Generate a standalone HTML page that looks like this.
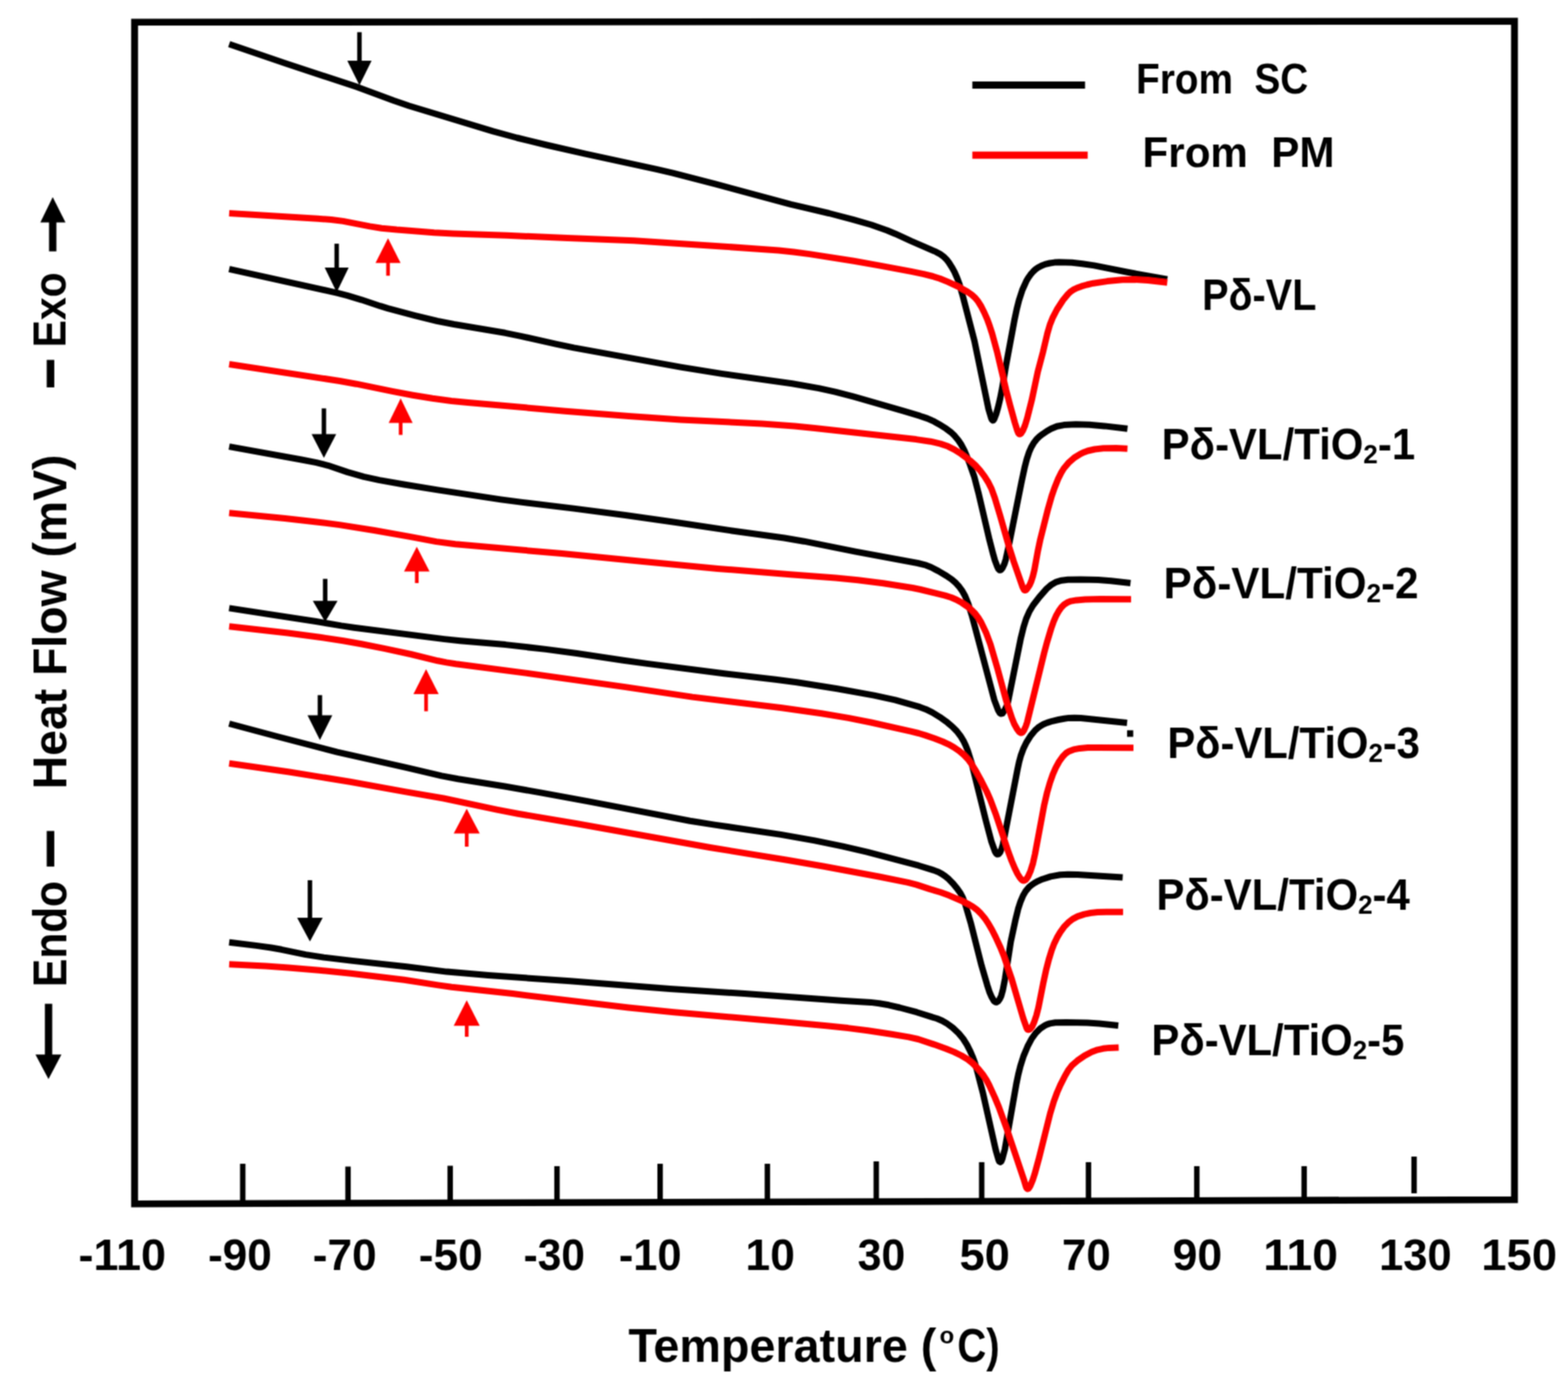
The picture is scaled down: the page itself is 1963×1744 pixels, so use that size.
<!DOCTYPE html>
<html><head><meta charset="utf-8"><title>DSC curves</title>
<style>html,body{margin:0;padding:0;background:#fff;overflow:hidden}svg{display:block}</style></head>
<body>
<svg width="1963" height="1744" viewBox="0 0 1963 1744">
<defs><filter id="soft" x="0" y="0" width="100%" height="100%" filterUnits="userSpaceOnUse"><feConvolveMatrix order="3" kernelMatrix="1 2 1 2 4 2 1 2 1" divisor="16" edgeMode="none" preserveAlpha="false"/></filter></defs>
<rect width="1963" height="1744" fill="#fff"/>
<g filter="url(#soft)">
<path d="M168.5,27.8 L1896,26.6 L1896,1502 L168.5,1507.3 Z" fill="none" stroke="#000" stroke-width="8.6" stroke-linejoin="miter"/>
<path d="M303.9,1457.1 V1505 M435.7,1460.4 V1505 M563.6,1459.6 V1505 M697.3,1459.9 V1505 M826.4,1457 V1505 M960.7,1457 V1505 M1097,1454 V1505 M1229,1455 V1505 M1362.7,1455 V1505 M1498.3,1460 V1505 M1632.7,1460 V1505 M1770.3,1448 V1494" stroke="#000" stroke-width="6.8" fill="none"/>
<g font-family="'Liberation Sans', Arial, sans-serif" font-weight="bold" fill="#000">
<text transform="translate(98.25,1590.00) scale(1.0090,1)" font-size="55.80" >-110</text>
<text transform="translate(260.38,1590.00) scale(0.9926,1)" font-size="55.80" >-90</text>
<text transform="translate(391.58,1590.00) scale(0.9926,1)" font-size="55.80" >-70</text>
<text transform="translate(524.29,1590.00) scale(0.9913,1)" font-size="55.80" >-50</text>
<text transform="translate(655.48,1590.00) scale(0.9506,1)" font-size="55.80" >-30</text>
<text transform="translate(774.63,1590.00) scale(0.9742,1)" font-size="55.80" >-10</text>
<text transform="translate(933.37,1590.00) scale(0.9955,1)" font-size="55.80" >10</text>
<text transform="translate(1073.66,1590.00) scale(0.9604,1)" font-size="55.80" >30</text>
<text transform="translate(1201.30,1590.00) scale(1.0133,1)" font-size="55.80" >50</text>
<text transform="translate(1329.40,1590.00) scale(0.9848,1)" font-size="55.80" >70</text>
<text transform="translate(1468.05,1590.00) scale(1.0009,1)" font-size="55.80" >90</text>
<text transform="translate(1581.42,1590.00) scale(1.0409,1)" font-size="55.80" >110</text>
<text transform="translate(1726.43,1590.00) scale(0.9768,1)" font-size="55.80" >130</text>
<text transform="translate(1854.60,1590.00) scale(1.0158,1)" font-size="55.80" >150</text>
</g>
<g fill="none" stroke-width="8.0" stroke-linejoin="round" stroke-linecap="butt">
<path d="M286.9,55.3 L357.9,79.5 L447.2,108.9 L493.1,126.0 L512.0,132.5 L617.3,164.3 L647.2,172.5 L684.1,181.5 L732.9,192.6 L821.8,211.8 L842.3,216.6 L896.5,230.6 L990.1,255.8 L1037.8,267.0 L1067.8,274.8 L1090.9,281.5 L1110.7,288.5 L1120.8,292.7 L1140.8,301.9 L1172.0,315.4 L1177.2,318.3 L1181.2,321.2 L1184.7,324.6 L1187.8,328.5 L1191.5,334.3 L1194.9,340.4 L1198.1,347.7 L1200.9,355.2 L1204.8,368.6 L1219.9,426.7 L1237.5,511.9 L1240.9,523.4 L1241.7,525.2 L1242.8,526.4 L1243.5,526.3 L1244.6,524.9 L1247.1,518.4 L1249.3,510.7 L1252.1,499.0 L1254.6,486.3 L1259.4,457.7 L1270.0,400.7 L1272.9,387.0 L1275.6,376.3 L1279.9,363.0 L1284.8,352.1 L1287.3,347.8 L1290.2,343.7 L1293.4,340.0 L1296.3,337.3 L1299.5,335.0 L1303.8,332.7 L1308.4,330.9 L1314.2,329.5 L1320.1,328.6 L1326.0,328.3 L1342.0,328.8 L1354.9,330.2 L1369.7,332.4 L1412.9,341.0 L1461.3,349.8" stroke="#000"/>
<path d="M286.9,336.8 L422.6,366.8 L435.2,370.1 L452.4,375.3 L476.1,383.2 L485.7,386.1 L519.5,395.1 L547.7,402.0 L568.3,406.0 L632.4,416.8 L652.0,420.8 L696.8,430.9 L718.4,435.4 L852.2,459.6 L903.5,467.9 L991.7,480.3 L1025.2,486.1 L1045.7,490.6 L1068.9,496.7 L1131.4,514.6 L1151.5,520.7 L1160.9,523.9 L1168.2,527.1 L1175.2,530.9 L1184.5,536.7 L1190.9,541.5 L1195.2,545.7 L1199.6,551.0 L1203.5,556.8 L1207.2,563.9 L1213.7,579.6 L1219.6,596.6 L1224.9,616.9 L1238.8,676.3 L1243.3,693.7 L1245.5,701.4 L1248.3,708.9 L1250.0,712.4 L1251.4,713.7 L1252.2,713.8 L1253.0,713.5 L1254.9,711.4 L1257.4,706.0 L1259.2,700.2 L1262.6,684.6 L1278.9,603.2 L1282.7,585.6 L1285.4,575.0 L1288.2,566.4 L1291.0,560.0 L1293.9,554.9 L1297.5,550.2 L1301.1,546.7 L1304.9,543.7 L1310.7,539.7 L1315.9,536.8 L1323.2,533.8 L1331.9,532.1 L1346.9,531.3 L1363.8,531.8 L1382.8,533.4 L1411.5,536.8" stroke="#000"/>
<path d="M286.9,559.1 L377.4,575.5 L396.1,579.2 L410.6,582.8 L435.2,591.1 L455.4,596.8 L475.0,601.1 L505.5,606.5 L547.9,613.4 L627.0,625.4 L653.8,628.9 L718.3,636.6 L782.8,645.0 L846.2,654.0 L916.4,664.5 L981.8,673.5 L1006.4,677.7 L1071.1,690.7 L1148.8,705.0 L1159.4,707.7 L1165.8,710.3 L1174.7,714.9 L1185.0,721.0 L1191.6,725.5 L1196.8,730.1 L1200.8,734.5 L1204.3,739.3 L1207.8,745.4 L1212.0,755.5 L1216.8,770.7 L1244.7,876.1 L1249.6,889.2 L1251.7,892.6 L1253.2,893.6 L1254.9,893.2 L1257.3,890.1 L1259.9,884.7 L1261.8,879.1 L1277.8,799.7 L1281.4,785.1 L1284.7,774.6 L1288.7,765.5 L1293.3,757.8 L1301.2,747.5 L1310.4,737.0 L1316.4,731.9 L1322.4,728.6 L1329.0,726.7 L1336.9,725.7 L1352.9,725.4 L1374.9,726.1 L1390.8,727.3 L1415.3,730.0" stroke="#000"/>
<path d="M286.9,761.4 L395.6,778.0 L427.2,783.4 L443.0,785.7 L556.1,800.1 L576.0,802.2 L632.8,807.1 L683.4,812.9 L722.1,818.0 L780.4,826.8 L810.2,830.9 L906.4,843.3 L970.9,850.8 L997.7,854.3 L1048.1,862.3 L1094.3,870.6 L1120.7,876.4 L1151.5,885.2 L1158.9,887.9 L1167.0,891.9 L1176.3,897.6 L1186.1,904.6 L1192.2,909.7 L1197.8,915.4 L1202.7,921.7 L1206.2,927.6 L1208.8,933.0 L1211.4,939.5 L1216.5,955.7 L1234.3,1027.6 L1241.2,1053.7 L1245.6,1065.9 L1247.1,1068.5 L1248.5,1069.6 L1250.1,1069.3 L1252.0,1067.1 L1254.0,1062.5 L1255.5,1057.7 L1273.8,963.5 L1275.9,953.7 L1278.0,946.0 L1281.1,937.6 L1285.0,929.5 L1290.3,921.1 L1296.0,914.2 L1299.7,910.9 L1302.9,908.7 L1306.3,906.8 L1310.9,904.9 L1317.5,902.8 L1325.3,901.0 L1332.2,899.7 L1338.1,898.9 L1345.1,898.7 L1353.1,899.1 L1411.0,905.0" stroke="#000"/>
<path d="M286.9,906.0 L346.8,922.0 L422.3,941.7 L508.2,960.8 L552.9,971.4 L573.6,975.3 L631.8,984.5 L678.1,992.6 L738.1,1003.6 L863.8,1027.7 L894.5,1032.6 L977.5,1044.9 L1019.9,1052.4 L1055.2,1059.6 L1085.4,1066.6 L1150.1,1083.7 L1169.2,1089.6 L1174.8,1091.8 L1179.1,1094.1 L1183.2,1096.9 L1187.8,1100.7 L1193.3,1106.4 L1198.4,1112.6 L1202.4,1118.3 L1205.2,1123.6 L1208.7,1132.9 L1215.7,1156.9 L1228.9,1209.2 L1235.9,1233.2 L1239.0,1242.7 L1241.4,1248.2 L1244.5,1253.3 L1246.0,1254.5 L1246.9,1254.8 L1247.8,1254.7 L1249.4,1253.7 L1251.2,1251.4 L1253.4,1246.9 L1255.3,1240.2 L1258.2,1225.4 L1265.4,1179.0 L1271.5,1150.7 L1274.6,1138.1 L1277.7,1128.6 L1280.8,1121.2 L1284.3,1115.3 L1288.1,1110.8 L1291.1,1108.2 L1295.1,1105.5 L1299.5,1103.1 L1305.0,1100.7 L1315.4,1097.4 L1327.2,1095.3 L1337.2,1094.7 L1349.1,1094.9 L1405.5,1098.5" stroke="#000"/>
<path d="M286.9,1179.8 L320.7,1183.9 L339.5,1186.5 L352.3,1188.8 L382.6,1195.1 L405.3,1198.6 L441.1,1202.9 L508.7,1210.3 L559.3,1216.6 L611.1,1221.0 L713.8,1228.3 L838.5,1238.0 L932.3,1244.0 L1052.9,1252.8 L1089.9,1254.9 L1100.8,1256.2 L1112.6,1258.3 L1126.2,1261.5 L1147.5,1267.2 L1173.2,1275.3 L1179.6,1278.0 L1184.8,1280.9 L1192.8,1286.8 L1200.1,1293.6 L1205.8,1300.5 L1210.6,1308.1 L1214.2,1315.2 L1217.4,1322.5 L1220.2,1330.0 L1222.8,1338.6 L1230.8,1369.6 L1246.6,1439.9 L1250.2,1452.3 L1251.0,1454.1 L1252.3,1454.9 L1253.5,1454.0 L1254.7,1451.2 L1258.0,1438.7 L1272.4,1356.9 L1274.8,1345.2 L1277.5,1334.5 L1281.4,1322.1 L1286.4,1310.2 L1291.5,1300.5 L1296.8,1293.2 L1302.4,1287.7 L1308.1,1283.9 L1310.7,1282.6 L1314.4,1281.4 L1321.2,1280.3 L1335.2,1280.0 L1361.2,1280.5 L1376.2,1281.6 L1400.0,1284.0" stroke="#000"/>
<path d="M286.9,267.1 L397.7,273.7 L414.7,275.0 L429.5,276.9 L462.9,283.4 L477.7,285.7 L496.6,287.6 L543.5,291.2 L567.4,292.4 L634.4,294.7 L710.3,298.1 L793.3,301.2 L896.0,307.9 L974.8,313.6 L993.7,315.5 L1013.6,318.1 L1068.9,326.8 L1100.4,332.4 L1140.7,339.9 L1156.4,343.1 L1168.0,346.0 L1176.6,348.7 L1186.7,352.9 L1201.2,359.7 L1210.8,365.0 L1216.5,369.0 L1220.9,373.0 L1224.6,377.6 L1228.3,383.5 L1232.3,391.5 L1235.9,399.7 L1239.0,408.2 L1242.1,417.7 L1248.6,441.8 L1259.6,488.5 L1264.4,506.9 L1270.5,529.1 L1273.5,538.7 L1274.9,542.3 L1276.2,543.5 L1277.0,543.5 L1278.4,542.5 L1280.5,539.1 L1283.2,532.6 L1286.1,523.1 L1291.7,500.8 L1299.2,465.5 L1305.8,440.4 L1311.3,417.1 L1314.4,406.5 L1318.1,397.3 L1323.2,387.5 L1330.8,375.8 L1337.1,368.1 L1340.7,364.8 L1344.0,362.7 L1348.4,360.5 L1354.0,358.4 L1360.7,356.5 L1368.5,354.7 L1386.2,352.1 L1405.2,350.3 L1419.1,350.0 L1437.1,351.1 L1461.3,353.8" stroke="#f00"/>
<path d="M286.9,456.0 L425.3,477.0 L446.0,480.7 L491.0,489.9 L516.6,494.7 L541.3,498.8 L565.1,502.0 L585.9,504.0 L707.5,514.7 L787.2,521.1 L852.1,525.4 L953.9,530.6 L994.8,533.4 L1019.7,535.9 L1146.9,550.1 L1164.7,552.7 L1177.4,555.6 L1186.8,558.8 L1194.8,562.8 L1203.2,568.2 L1214.4,576.6 L1221.1,582.6 L1226.5,588.4 L1232.5,596.4 L1237.3,604.0 L1241.3,612.0 L1245.4,623.3 L1252.0,645.3 L1262.7,682.8 L1269.0,702.8 L1280.2,734.9 L1282.0,738.4 L1282.7,738.9 L1283.4,739.1 L1284.2,738.8 L1285.6,737.4 L1289.0,732.5 L1291.0,727.9 L1293.1,721.3 L1295.0,713.5 L1299.3,689.9 L1302.4,675.2 L1311.4,639.4 L1316.6,621.1 L1320.2,610.7 L1324.7,599.6 L1328.2,592.4 L1331.8,586.5 L1337.6,579.6 L1345.0,573.0 L1352.5,568.3 L1357.1,566.2 L1361.7,564.5 L1370.4,562.5 L1381.3,561.3 L1397.3,561.0 L1411.5,561.7" stroke="#f00"/>
<path d="M286.9,642.2 L356.6,649.0 L396.3,653.5 L425.1,657.1 L468.5,664.0 L512.9,671.9 L546.3,678.1 L570.0,681.3 L703.5,693.1 L805.0,703.1 L898.6,711.9 L989.3,719.2 L1046.2,723.5 L1074.0,726.2 L1105.8,730.3 L1142.3,736.0 L1152.1,738.0 L1183.2,745.6 L1190.8,748.0 L1197.2,750.7 L1204.1,754.6 L1210.7,759.1 L1216.2,763.5 L1221.0,768.4 L1224.6,773.1 L1228.3,779.1 L1234.3,791.7 L1239.9,806.7 L1248.6,836.4 L1259.6,876.9 L1266.7,898.8 L1269.7,906.2 L1273.6,913.2 L1276.0,916.4 L1277.6,917.4 L1278.5,917.5 L1280.1,916.8 L1281.9,914.4 L1284.3,909.0 L1285.9,904.2 L1307.1,817.8 L1311.0,803.3 L1315.9,787.0 L1318.9,778.5 L1322.0,771.2 L1325.4,765.1 L1328.8,760.3 L1332.2,756.9 L1336.2,754.3 L1340.7,752.6 L1347.5,751.4 L1358.5,750.6 L1377.5,750.1 L1416.0,750.3" stroke="#f00"/>
<path d="M286.9,784.3 L360.4,792.5 L400.1,797.7 L429.8,802.2 L452.4,806.3 L480.8,811.9 L514.1,819.0 L548.1,827.3 L558.9,829.4 L570.7,831.3 L658.0,842.6 L782.8,860.1 L866.8,872.6 L979.0,886.2 L1028.5,893.3 L1062.1,898.9 L1090.5,904.5 L1140.3,915.6 L1150.0,918.0 L1158.6,920.6 L1169.9,924.5 L1180.2,928.5 L1187.4,931.8 L1194.4,935.8 L1200.9,940.3 L1207.0,945.4 L1211.8,950.5 L1216.5,956.9 L1221.8,965.4 L1227.6,975.9 L1235.3,991.0 L1239.8,1001.1 L1247.1,1020.7 L1262.6,1067.2 L1266.4,1077.5 L1270.3,1086.7 L1273.8,1094.0 L1276.4,1098.2 L1278.9,1101.3 L1280.5,1102.4 L1281.4,1102.6 L1282.3,1102.4 L1284.0,1101.5 L1285.3,1100.1 L1287.0,1097.6 L1290.2,1090.3 L1293.2,1080.7 L1295.8,1069.0 L1307.2,1008.1 L1310.8,992.5 L1314.4,980.0 L1318.0,969.6 L1321.6,961.4 L1325.9,953.5 L1330.5,947.1 L1334.5,943.0 L1338.6,940.4 L1344.0,938.4 L1351.8,936.9 L1361.8,936.1 L1374.8,935.9 L1419.0,936.3" stroke="#f00"/>
<path d="M286.9,955.7 L362.1,966.5 L438.1,978.7 L508.0,991.4 L555.3,999.5 L621.8,1013.6 L648.4,1018.7 L722.3,1031.2 L888.7,1061.0 L985.4,1076.7 L1031.7,1084.8 L1101.5,1097.8 L1136.8,1104.9 L1147.4,1107.6 L1162.6,1112.6 L1177.9,1117.3 L1188.2,1121.1 L1205.6,1128.6 L1212.8,1132.1 L1217.9,1135.1 L1222.7,1138.7 L1227.7,1143.5 L1232.8,1149.6 L1237.3,1156.2 L1241.8,1164.0 L1246.3,1172.9 L1252.6,1186.5 L1256.7,1196.7 L1266.7,1226.1 L1281.0,1275.0 L1285.3,1287.2 L1286.3,1288.8 L1287.1,1289.2 L1288.0,1289.1 L1289.6,1288.3 L1292.1,1285.2 L1294.6,1279.8 L1297.5,1271.3 L1300.0,1261.6 L1306.2,1230.2 L1309.6,1214.6 L1313.1,1201.0 L1316.6,1189.6 L1319.8,1181.2 L1323.3,1173.9 L1327.3,1167.1 L1332.0,1160.6 L1337.4,1154.9 L1342.9,1150.6 L1349.0,1147.4 L1357.4,1144.6 L1365.3,1143.0 L1374.2,1142.1 L1385.2,1141.7 L1406.0,1141.8" stroke="#f00"/>
<path d="M286.9,1207.3 L332.8,1209.6 L360.8,1211.4 L399.6,1214.7 L439.4,1218.7 L506.0,1226.8 L548.4,1233.4 L565.3,1235.7 L641.8,1244.1 L786.8,1261.5 L843.5,1267.2 L970.0,1278.3 L1034.7,1284.3 L1061.6,1287.1 L1086.4,1290.3 L1116.0,1294.7 L1137.7,1298.4 L1149.4,1301.0 L1169.3,1307.6 L1184.4,1313.0 L1194.6,1317.1 L1203.5,1321.5 L1211.2,1326.2 L1217.5,1331.1 L1224.6,1338.1 L1230.3,1345.0 L1234.7,1351.6 L1238.4,1358.7 L1245.5,1374.1 L1250.5,1386.1 L1261.4,1416.2 L1282.1,1477.8 L1284.4,1485.5 L1285.1,1487.3 L1286.4,1488.5 L1287.1,1488.4 L1287.8,1488.0 L1289.9,1484.6 L1292.9,1477.2 L1295.4,1469.6 L1300.9,1449.4 L1314.7,1394.1 L1319.3,1378.8 L1323.5,1367.5 L1327.5,1358.4 L1333.4,1346.8 L1337.9,1339.1 L1342.1,1333.7 L1348.8,1327.9 L1357.9,1321.6 L1366.7,1317.0 L1374.1,1314.3 L1380.9,1312.8 L1388.8,1311.9 L1400.5,1311.5" stroke="#f00"/>
</g>
<rect x="1411" y="914.3" width="7.7" height="8.2" fill="#000"/>
<path d="M450,40.3 V77.9" stroke="#000" stroke-width="5.6"/>
<path d="M434.8,75.9 L465.2,75.9 L450,106.8 Z" fill="#000"/>
<path d="M421.5,305.1 V336.9" stroke="#000" stroke-width="5.6"/>
<path d="M406.5,334.9 L436.5,334.9 L421.5,365.9 Z" fill="#000"/>
<path d="M405.5,511.3 V545.4" stroke="#000" stroke-width="5.6"/>
<path d="M390.1,543.4 L420.9,543.4 L405.5,573.2 Z" fill="#000"/>
<path d="M407.1,724.7 V754.2" stroke="#000" stroke-width="5.6"/>
<path d="M391.6,752.2 L422.6,752.2 L407.1,778.6 Z" fill="#000"/>
<path d="M400.5,870.3 V897.5" stroke="#000" stroke-width="5.6"/>
<path d="M385.0,895.5 L416.0,895.5 L400.5,926.4 Z" fill="#000"/>
<path d="M388,1102 V1151" stroke="#000" stroke-width="5.6"/>
<path d="M372,1149 L404,1149 L388,1178.8 Z" fill="#000"/>
<path d="M485.8,345.2 V327.2" stroke="#f00" stroke-width="4.6"/>
<path d="M470.1,329.2 L501.5,329.2 L485.8,298.2 Z" fill="#f00"/>
<path d="M501.6,544.5 V527.6" stroke="#f00" stroke-width="4.6"/>
<path d="M486.6,529.6 L516.6,529.6 L501.6,498.7 Z" fill="#f00"/>
<path d="M521.8,730 V713.5" stroke="#f00" stroke-width="4.6"/>
<path d="M505.79999999999995,715.5 L537.8,715.5 L521.8,684.6 Z" fill="#f00"/>
<path d="M533.4,890.5 V867.1" stroke="#f00" stroke-width="4.6"/>
<path d="M517.6,869.1 L549.1999999999999,869.1 L533.4,837.7 Z" fill="#f00"/>
<path d="M584.3,1060 V1041.6" stroke="#f00" stroke-width="4.6"/>
<path d="M568.0,1043.6 L600.5999999999999,1043.6 L584.3,1012.6 Z" fill="#f00"/>
<path d="M584.3,1298 V1282.3" stroke="#f00" stroke-width="4.6"/>
<path d="M568.0,1284.3 L600.5999999999999,1284.3 L584.3,1252.2 Z" fill="#f00"/>
<path d="M1217.3,106.5 H1358.4" stroke="#000" stroke-width="9"/>
<path d="M1217.3,194.3 H1361.7" stroke="#f00" stroke-width="9"/>
<g font-family="'Liberation Sans', Arial, sans-serif" font-weight="bold" fill="#000" style="white-space:pre">
<text transform="translate(1422.24,117.30) scale(0.9052,1)" font-size="53.62" >From  SC</text>
<text transform="translate(1430.37,209.00) scale(0.9845,1)" font-size="53.62" >From  PM</text>
</g>
<g font-family="'Liberation Sans', Arial, sans-serif" font-weight="bold" fill="#000">
<text transform="translate(1504.88,387.80) scale(0.9055,1)" font-size="54.78" >Pδ-VL</text>
<text transform="translate(1454.29,574.60) scale(0.9584,1)" font-size="54.78">Pδ-VL/TiO<tspan font-size="33.97" dy="4.93">2</tspan><tspan dy="-4.93">-1</tspan></text>
<text transform="translate(1456.67,749.30) scale(0.9642,1)" font-size="54.78">Pδ-VL/TiO<tspan font-size="33.97" dy="4.93">2</tspan><tspan dy="-4.93">-2</tspan></text>
<text transform="translate(1461.40,949.00) scale(0.9554,1)" font-size="54.78">Pδ-VL/TiO<tspan font-size="33.97" dy="4.93">2</tspan><tspan dy="-4.93">-3</tspan></text>
<text transform="translate(1447.69,1139.30) scale(0.9586,1)" font-size="54.78">Pδ-VL/TiO<tspan font-size="33.97" dy="4.93">2</tspan><tspan dy="-4.93">-4</tspan></text>
<text transform="translate(1441.60,1320.60) scale(0.9557,1)" font-size="54.78">Pδ-VL/TiO<tspan font-size="33.97" dy="4.93">2</tspan><tspan dy="-4.93">-5</tspan></text>
</g>
<g font-family="'Liberation Sans', Arial, sans-serif" font-weight="bold" fill="#000">
<text transform="translate(83.00,988.27) rotate(-90) scale(0.9653,1)" font-size="60.14" >Heat Flow (mV)</text>
<text transform="translate(82.60,1235.75) rotate(-90) scale(0.9101,1)" font-size="58.41" >Endo</text>
<text transform="translate(82.00,435.03) rotate(-90) scale(0.8934,1)" font-size="57.39" >Exo</text>
</g>
<text transform="translate(63.40,1062.60) rotate(-90) scale(0.4460,0.9600) translate(-50.00,27.00)" font-size="100" font-family="'Liberation Sans', Arial, sans-serif" font-weight="bold">—</text>
<text transform="translate(63.40,467.80) rotate(-90) scale(0.3440,0.9600) translate(-50.00,27.00)" font-size="100" font-family="'Liberation Sans', Arial, sans-serif" font-weight="bold">—</text>
<path d="M66,314.7 V276" stroke="#000" stroke-width="9.2"/>
<path d="M50.5,278.5 L82,278.5 L66,246.7 Z" fill="#000"/>
<path d="M60.8,1256.7 V1323" stroke="#000" stroke-width="9.2"/>
<path d="M44.4,1320.3 L76.9,1320.3 L60.7,1351 Z" fill="#000"/>
<g font-family="'Liberation Sans', Arial, sans-serif" font-weight="bold" fill="#000">
<text transform="translate(786.72,1704.60) scale(0.9839,1)" font-size="59.42" >Temperature (</text>
<text transform="translate(1198.49,1704.60) scale(0.8441,1)" font-size="59.42" >C)</text>
</g>
<text font-family="'Liberation Sans', Arial, sans-serif" font-weight="bold" transform="translate(1176.3,1682.4)" font-size="30">o</text>
</g>
</svg>
</body></html>
